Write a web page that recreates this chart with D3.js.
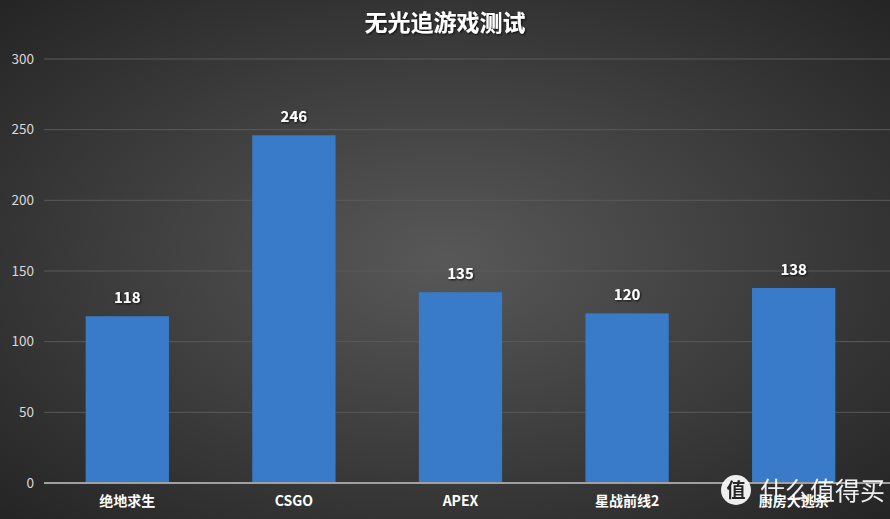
<!DOCTYPE html>
<html>
<head>
<meta charset="utf-8">
<script src="https://cdn.jsdelivr.net/npm/d3@7"></script>
<style>
  html, body { margin: 0; padding: 0; background: #2a2a2a; }
  svg { display: block; font-family: "Noto Sans CJK SC", "Noto Sans", sans-serif; }
</style>
</head>
<body>
<svg id="chart"></svg>
<script>
const categories = ['绝地求生', 'CSGO', 'APEX', '星战前线2', '厨房大逃杀']
const values = [118, 246, 135, 120, 138]
const yTicks = [0, 50, 100, 150, 200, 250, 300]
const title = '无光追游戏测试'

const width = 890
const height = 519
const margin = {top: 59, right: 13, bottom: 36, left: 44}

const svg = d3.select('#chart')
  .attr('width', width)
  .attr('height', height)

const defs = svg.append('defs')
const grad = defs.append('radialGradient')
  .attr('id', 'bg')
  .attr('cx', '50%').attr('cy', '50%').attr('r', '70%')
grad.append('stop').attr('offset', '0%').attr('stop-color', '#585858')
grad.append('stop').attr('offset', '100%').attr('stop-color', '#252525')

const shadow = defs.append('filter').attr('id', 'shadow')
shadow.append('feDropShadow')
  .attr('dx', 1).attr('dy', 1).attr('stdDeviation', 1)
  .attr('flood-color', '#000').attr('flood-opacity', 0.8)

svg.append('rect')
  .attr('width', width).attr('height', height)
  .attr('fill', 'url(#bg)')

const x = d3.scaleBand()
  .domain(categories)
  .range([margin.left, width - margin.right])
  .paddingInner(0.5)
  .paddingOuter(0.25)

const y = d3.scaleLinear()
  .domain([0, 300])
  .range([height - margin.bottom, margin.top])

// gridlines
svg.append('g')
  .selectAll('line')
  .data(yTicks.filter(d => d > 0))
  .join('line')
  .attr('x1', margin.left).attr('x2', width)
  .attr('y1', d => y(d)).attr('y2', d => y(d))
  .attr('stroke', '#5a5a5a')
  .attr('stroke-width', 1)

// y axis labels
svg.append('g')
  .selectAll('text')
  .data(yTicks)
  .join('text')
  .attr('x', 34)
  .attr('y', d => y(d))
  .attr('dy', '0.35em')
  .attr('text-anchor', 'end')
  .attr('fill', '#d9d9d9')
  .attr('font-size', 13.5)
  .text(d => d)

// bars
svg.append('g')
  .selectAll('rect')
  .data(values)
  .join('rect')
  .attr('x', (d, i) => x(categories[i]))
  .attr('width', x.bandwidth())
  .attr('y', d => y(d))
  .attr('height', d => y(0) - y(d))
  .attr('fill', '#3a7bc9')

// baseline
svg.append('line')
  .attr('x1', margin.left).attr('x2', width)
  .attr('y1', y(0)).attr('y2', y(0))
  .attr('stroke', '#a0a0a0')
  .attr('stroke-width', 2)

// value labels
svg.append('g')
  .selectAll('text')
  .data(values)
  .join('text')
  .attr('x', (d, i) => x(categories[i]) + x.bandwidth() / 2)
  .attr('y', d => y(d) - 13)
  .attr('text-anchor', 'middle')
  .attr('fill', '#ffffff')
  .attr('font-size', 15)
  .attr('font-weight', 'bold')
  .attr('filter', 'url(#shadow)')
  .text(d => d)

// category labels
svg.append('g')
  .selectAll('text')
  .data(categories)
  .join('text')
  .attr('x', d => x(d) + x.bandwidth() / 2)
  .attr('y', 506)
  .attr('text-anchor', 'middle')
  .attr('fill', '#ffffff')
  .attr('font-size', 14)
  .attr('font-weight', 'bold')
  .text(d => d)

// title
svg.append('text')
  .attr('x', width / 2)
  .attr('y', 31)
  .attr('text-anchor', 'middle')
  .attr('fill', '#ffffff')
  .attr('font-size', 23)
  .attr('font-weight', 'bold')
  .attr('filter', 'url(#shadow)')
  .text(title)

// watermark
const wm = svg.append('g').attr('opacity', 0.92)
wm.append('circle')
  .attr('cx', 736).attr('cy', 490).attr('r', 15)
  .attr('fill', '#ffffff')
wm.append('text')
  .attr('x', 736).attr('y', 497)
  .attr('text-anchor', 'middle')
  .attr('fill', '#222')
  .attr('font-size', 19)
  .attr('font-weight', 'bold')
  .text('值')
wm.append('text')
  .attr('x', 760).attr('y', 500)
  .attr('fill', '#ffffff')
  .attr('font-size', 25)
  .text('什么值得买')
</script>
</body>
</html>
